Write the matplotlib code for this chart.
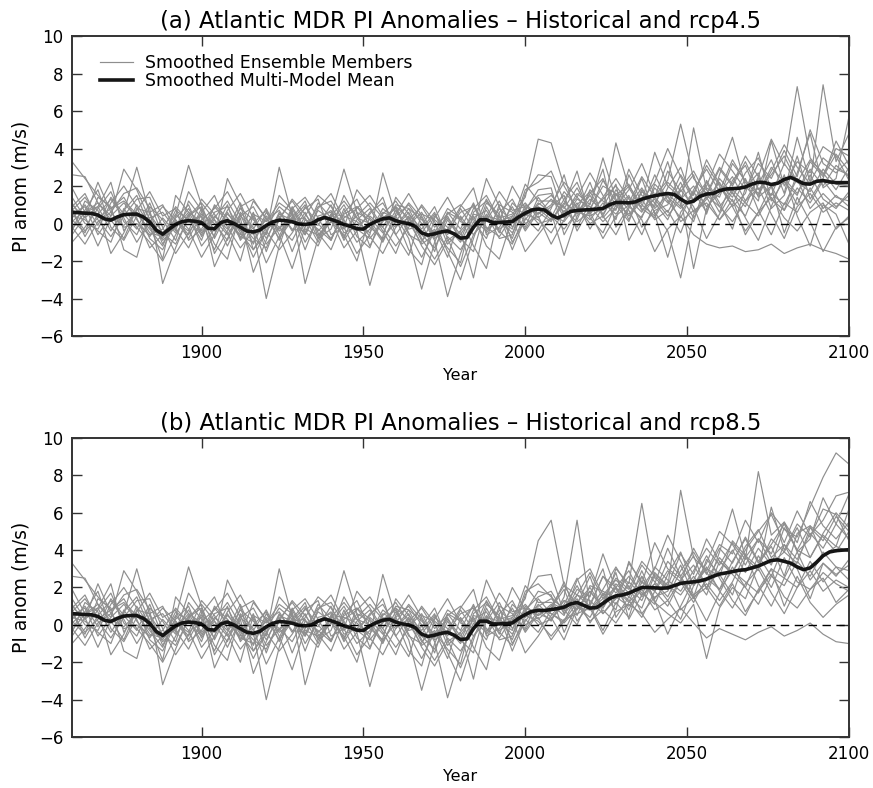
import numpy as np
import matplotlib
matplotlib.use("Agg")
import matplotlib.pyplot as plt


# =========================
# 1. Data
# =========================

# multi-model mean, 2-year steps
mean_hist_years = list(range(1860, 2005, 2))
mean_hist = [0.60, 0.58, 0.55, 0.54, 0.45, 0.25, 0.18, 0.35, 0.47, 0.50,
             0.50, 0.35, 0.08, -0.35, -0.57, -0.30, -0.05, 0.10, 0.15, 0.12,
             0.05, -0.25, -0.28, 0.05, 0.15, 0.00, -0.20, -0.40, -0.45, -0.35,
             -0.10, 0.08, 0.18, 0.15, 0.09, -0.02, -0.05, 0.00, 0.20, 0.32,
             0.22, 0.10, -0.05, -0.15, -0.28, -0.30, -0.05, 0.12, 0.25, 0.30,
             0.15, 0.05, 0.00, -0.15, -0.50, -0.62, -0.55, -0.45, -0.40, -0.55,
             -0.78, -0.75, -0.20, 0.20, 0.20, 0.05, 0.05, 0.08, 0.10, 0.35,
             0.55, 0.72, 0.77]

mean_fut_years = list(range(2006, 2101, 2))
mean_rcp45 = [0.72, 0.45, 0.29, 0.45, 0.64, 0.70, 0.72, 0.74, 0.77, 0.80,
              1.00, 1.12, 1.12, 1.10, 1.15, 1.30, 1.40, 1.48, 1.55, 1.60,
              1.55, 1.30, 1.10, 1.20, 1.45, 1.57, 1.60, 1.75, 1.84, 1.86,
              1.88, 1.95, 2.10, 2.20, 2.18, 2.08, 2.15, 2.35, 2.46, 2.30,
              2.12, 2.10, 2.25, 2.29, 2.22, 2.18, 2.18, 2.18]
mean_rcp85 = [0.77, 0.82, 0.87, 0.95, 1.12, 1.20, 1.05, 0.90, 0.92, 1.15,
              1.40, 1.55, 1.60, 1.70, 1.85, 2.00, 2.00, 1.98, 1.96, 1.98,
              2.10, 2.22, 2.27, 2.30, 2.35, 2.45, 2.60, 2.72, 2.78, 2.85,
              2.92, 2.95, 3.05, 3.15, 3.30, 3.45, 3.48, 3.40, 3.30, 3.10,
              2.95, 3.05, 3.35, 3.70, 3.90, 3.97, 4.00, 4.02]

# ensemble members, 4-year steps
hist_years = list(range(1860, 2005, 4))
hist_members = [
    [3.3, 2.4, 1.5, 0.8, 1.2, 0.5, -0.3, -1.2, 0.4, 3.1, 1.0, -0.8, 0.6, -0.5, -1.4, -0.2, 0.9, 0.3, -0.6, 0.8, 1.6, 0.2, -1.0, -0.3, 0.5, 1.2, 0.1, -1.1, -0.6, 0.4, -0.9, 0.8, 1.5, 0.2, -0.3, 1.8, 2.2],
    [2.6, 2.5, 1.1, 0.4, 2.9, 1.8, 0.2, -0.9, -0.2, 0.8, -0.4, 0.3, 1.2, 0.0, -0.8, -1.3, 0.2, 1.3, 0.5, -0.4, 0.3, 2.9, 0.6, -1.2, 0.2, 0.9, -0.5, -1.8, -0.4, -1.3, -2.1, 0.6, 1.2, 0.3, 0.5, 1.4, 4.5],
    [1.4, 0.3, 2.2, 0.6, 1.6, 1.9, 0.8, -3.2, -1.3, 0.4, 0.9, -1.6, -0.4, 0.8, 0.2, -0.6, 1.5, 0.7, -3.2, -0.8, 0.5, -0.3, 0.4, 1.1, 0.3, -0.2, 0.6, -0.8, -1.9, -0.7, -1.4, -0.2, 2.4, 0.9, -1.0, 0.2, 1.1],
    [0.9, 1.6, 0.2, -0.7, 0.4, 1.3, 1.4, -0.2, -1.6, -0.5, 0.6, 1.5, -0.2, -1.3, -0.4, -4.0, -1.2, 0.8, 1.4, 0.3, -0.9, 0.6, 1.3, -0.2, -0.8, 0.1, 1.1, 0.3, -0.9, -3.9, -1.6, 0.1, -0.8, 1.0, 0.6, -0.3, 0.8],
    [-1.0, -0.2, 0.8, 1.7, 0.1, -0.6, 0.9, 0.2, -0.9, 1.2, 0.3, -0.7, 2.4, 1.0, -1.4, -0.5, 3.0, 0.4, -0.6, 0.7, 0.2, -1.3, -0.4, -3.3, -0.7, 1.4, 0.5, -0.3, 0.6, -1.1, -0.4, -2.9, 0.3, 1.7, 0.7, 0.9, 0.5],
    [0.5, 0.9, -0.6, 0.4, 1.1, 0.3, -1.3, -0.6, 0.5, -0.3, -1.8, -0.6, 0.7, 1.6, 0.3, -1.1, -0.2, -0.9, 0.4, 1.5, 0.9, -0.2, -1.6, -0.6, 2.7, 0.4, -0.8, -3.5, -1.0, 0.6, 0.2, 1.0, -0.2, -0.7, 0.4, 1.1, 0.3],
    [1.9, 0.6, 0.9, 2.2, -0.4, 0.7, 1.7, 0.4, 0.8, -0.9, -0.3, 0.9, 0.1, -0.6, 1.2, 0.3, -0.8, 0.2, 1.0, -0.5, -1.4, 0.3, 0.8, 1.5, 0.4, -0.6, -1.7, 0.5, 0.2, -0.4, 0.6, 0.9, -0.3, 0.1, 2.0, 0.8, 1.5],
    [-0.4, 1.2, 0.7, -1.6, -0.5, 1.0, -0.1, -1.9, 1.5, 0.6, -0.5, 0.2, -1.2, 0.3, -2.6, -0.9, 0.6, -0.3, -0.4, -1.2, 0.4, 1.2, 0.3, -0.7, -1.6, -0.2, 0.8, -0.6, -1.3, 0.2, -0.8, -1.5, 0.9, -0.4, -1.1, 0.5, 0.2],
    [0.2, -0.5, 1.4, 0.9, -1.4, -1.8, 0.6, 1.0, -0.4, 1.7, 0.7, -2.3, -0.8, 0.4, -0.3, 0.8, -0.6, -2.4, -0.2, 0.9, 1.2, 0.1, -0.4, 0.6, 1.1, -0.1, 0.3, -1.2, -2.2, -0.9, -0.4, 0.4, -1.2, -1.9, 0.3, -1.5, -0.6],
    [1.1, 0.0, -0.3, 1.1, 2.0, 0.9, -0.8, -1.4, 0.1, -0.4, 1.3, 0.5, -0.5, -2.0, 0.5, 0.1, 1.1, 0.6, -1.0, 0.2, 0.7, -0.8, 0.9, 0.3, -0.5, 0.7, -0.3, -0.1, 0.9, -0.8, -2.3, -0.6, 0.5, -0.8, -0.6, 1.6, 2.6],
    [0.7, 1.4, 0.4, 0.1, 0.6, 3.0, 0.5, -0.5, -1.1, 0.3, -0.9, 1.0, 0.3, -0.7, -1.0, 0.6, -0.4, 0.1, 0.8, 1.3, -0.6, -0.2, 1.8, 0.9, -0.2, 1.0, 0.8, 0.2, -0.5, 0.8, 0.3, -1.2, -2.4, 0.6, 1.3, 0.0, 0.4],
    [-0.2, -1.1, 0.1, 0.6, -0.2, 0.0, -0.6, -0.3, 0.9, 0.1, 0.4, -1.1, -1.9, 0.6, -0.2, -2.1, -0.7, 0.9, -0.3, -0.6, 0.1, -0.6, -2.0, 0.4, -0.2, -1.2, -0.2, 1.0, 0.1, -1.5, -3.0, -0.8, 1.1, 0.5, -1.4, 0.3, -0.4],
    [0.4, 0.2, -0.4, -1.0, 0.8, -0.2, -1.0, -2.0, -0.6, 0.5, -1.2, -0.3, 0.5, -0.2, -1.8, -0.4, 0.4, -1.5, 0.2, -0.3, -0.9, 0.8, -0.7, -1.3, 0.6, 0.3, -1.4, -2.2, 0.3, 1.4, 0.1, -0.2, 0.4, 0.2, -0.5, 0.7, 1.8],
    [0.1, 0.7, 1.8, -0.2, -0.9, 0.4, 0.3, 0.6, -0.3, -1.3, 0.2, 0.8, 1.7, 0.4, 0.9, -0.4, -1.4, -0.5, 0.6, -0.8, -0.3, 1.5, 0.3, 0.0, -1.0, 0.5, 1.6, 0.4, -0.8, -0.3, 0.9, 1.9, -0.6, -0.2, 0.9, -0.4, 0.6],
    [0.8, -0.7, 0.5, 1.3, 0.3, -1.0, 0.1, 0.9, 0.2, -0.8, 0.5, 0.0, -0.9, 0.9, 1.3, 0.2, -0.3, 0.5, -1.4, 0.4, 0.6, -0.9, 0.2, 0.8, -0.4, -1.6, 0.2, 0.9, -0.2, 0.5, 1.0, 0.2, -0.4, 0.8, 0.1, 2.1, 1.2],
    [-0.6, 0.4, -1.2, 0.3, -0.1, 0.6, -0.5, -0.7, 0.7, 0.2, -0.6, 0.6, 0.9, -0.4, 0.4, -0.8, 0.5, 0.2, 0.3, -1.0, 0.5, 0.4, 0.1, -0.5, 0.8, 0.2, -0.1, 0.6, -0.7, 0.3, -0.6, 0.5, 0.3, -0.3, 0.2, 0.6, 0.9],
    [1.0, 0.3, 0.9, -0.4, 0.7, 1.5, -0.2, -0.8, 0.3, 1.0, -0.7, 0.4, -0.3, 1.1, -0.6, 0.2, 0.7, -0.4, 0.9, 0.0, -0.8, 0.5, 0.9, -0.1, 0.3, 0.8, -0.6, -1.0, 0.4, -0.2, -1.0, 0.3, 0.7, -0.5, 1.1, 0.4, 1.0],
    [0.3, 1.0, -0.1, 1.4, 0.5, -0.3, 1.1, -0.6, -0.2, 0.6, 0.1, -1.4, 0.3, -0.8, 0.6, -1.5, 0.3, 1.2, 0.2, -0.1, 1.0, -0.5, -0.2, 0.5, 1.4, -0.6, 0.4, -0.9, -0.3, -1.8, 0.4, -0.6, 0.2, 1.2, -0.2, 0.8, 0.0],
    [-0.3, 0.6, 1.1, 0.2, -0.8, 0.8, 0.6, -1.1, 0.2, -0.6, 0.8, -0.4, 1.0, -0.9, 0.0, 0.7, -0.9, 0.8, -0.5, 1.1, 0.3, -0.7, 0.6, 0.2, -0.9, 0.4, 1.0, 0.0, -1.5, 0.6, -0.3, 1.1, -0.5, 0.4, -0.8, 1.0, 0.5],
    [0.6, -0.4, 0.3, 0.8, 1.4, 0.2, -0.7, 0.3, -0.5, 0.4, 1.1, 0.2, -0.6, 0.5, -1.1, 0.4, -0.2, 0.3, 1.2, -0.7, 0.1, 1.0, -0.3, -0.8, 0.1, 0.9, 0.3, -0.5, 0.5, -0.6, 0.8, -0.3, 1.3, 0.1, 0.4, -0.2, 1.4],
]

fut_years = list(range(2008, 2101, 4))
rcp45_members = [
    [2.8, 1.2, 0.5, 1.6, 2.4, 0.9, 1.8, 3.2, 1.5, 2.3, 5.3, 2.4, 1.6, 3.0, 2.1, 3.6, 2.5, 4.5, 3.1, 7.3, 3.5, 2.6, 4.0, 3.6],
    [4.3, 2.0, 0.8, 0.2, 1.1, 0.5, 1.4, 0.9, 2.6, 1.2, 0.3, 1.8, 2.9, 1.7, 3.4, 2.2, 1.5, 2.8, 4.2, 3.0, 2.1, 7.4, 3.3, 4.8],
    [0.6, -1.7, 0.4, 1.3, 0.7, 4.3, 1.9, 0.8, 0.3, 1.6, 0.9, 5.1, 1.8, 0.6, 2.3, 3.1, 1.4, 2.0, 0.7, 2.7, 4.8, 1.9, 2.4, 5.7],
    [0.2, 1.0, 2.8, 0.3, -0.5, 1.0, 0.1, 1.8, 0.6, -0.4, -2.9, 0.5, 1.3, 2.2, 0.9, 1.6, 3.8, 1.2, 2.3, 1.0, 2.6, 1.3, 0.8, 1.7],
    [1.3, 0.6, 1.4, 2.7, 1.5, 0.2, 2.6, 1.1, 3.8, 2.0, 1.4, -2.4, 0.8, 1.9, 1.2, 0.4, 2.1, 3.4, 1.6, 4.6, 2.2, 3.5, 2.9, 2.6],
    [0.9, 1.5, -0.4, 0.8, 2.0, 1.6, 0.7, -0.6, 1.1, 0.2, 1.8, 0.9, -0.8, 0.5, 1.7, 0.3, -0.9, 0.9, 2.6, 0.4, -1.2, 1.0, 0.5, -1.1],
    [1.6, 0.3, 1.1, -0.3, 0.9, 2.1, -0.9, 0.4, 1.4, 3.3, 1.0, 0.1, 2.3, 1.1, -0.3, 1.9, 2.7, 0.8, 1.5, 3.6, 1.3, 2.4, 4.4, 3.1],
    [-0.5, 0.7, 0.1, 0.6, -0.8, 0.4, 1.0, 0.2, -1.5, -0.3, 0.4, -0.6, -1.1, -1.3, -1.2, -1.5, -1.4, -1.1, -1.6, -1.3, -1.1, -1.4, -1.6, -1.9],
    [0.3, 1.7, 0.9, 0.0, 0.4, -0.6, 0.8, 2.4, 0.5, -1.8, 0.6, 1.6, 3.1, 2.0, 0.9, -0.4, 0.6, 2.0, -0.5, 1.4, 0.1, -1.5, -0.2, 0.3],
    [2.5, 0.4, 1.6, 1.0, 3.5, 1.3, 0.4, 1.2, 2.2, 4.0, 2.5, 1.2, 2.0, 3.7, 2.8, 1.8, 3.2, 2.4, 3.9, 2.5, 5.0, 3.2, 2.7, 3.4],
    [-1.1, 0.2, 1.3, 0.9, 0.1, 0.8, 1.5, -0.2, 0.7, 1.0, 2.2, 0.6, 1.4, 0.2, 1.0, 2.4, 0.7, -0.6, 1.1, 0.6, 1.9, 0.8, 1.5, 0.9],
    [0.8, 2.6, 0.2, 1.8, 1.2, 0.7, 2.9, 1.5, 0.9, 2.8, 1.7, 2.6, 0.5, 2.6, 4.6, 2.0, 1.2, 4.4, 2.0, 3.3, 2.7, 4.1, 3.6, 2.3],
    [1.9, -0.6, 0.7, 2.2, 0.3, 1.1, 0.5, 1.3, 0.2, 0.7, -0.5, 1.3, 2.2, 0.9, 0.1, 1.2, 1.9, 0.5, -0.8, 0.9, 1.6, 0.6, 1.1, 0.7],
    [0.1, 1.3, 2.2, 0.5, 1.4, 2.4, 1.3, 0.6, 1.9, 1.1, 2.6, 1.5, 3.4, 2.1, 1.4, 2.7, 3.5, 1.9, 2.4, 1.6, 2.9, 2.0, 3.1, 2.5],
    [1.2, 0.9, -0.2, 1.1, 2.9, -0.2, 0.9, 1.9, 0.8, 1.5, 0.1, 0.7, 1.1, 0.2, 1.3, -0.6, 0.6, 1.4, 0.3, -0.4, 0.6, 1.1, -0.3, 0.4],
    [0.4, -0.3, 0.6, 0.4, 0.8, 1.5, 2.1, 0.7, 1.3, 0.4, 1.3, 2.0, 0.9, 1.6, 2.5, 1.2, 2.4, 1.5, 3.2, 2.2, 1.7, 2.9, 2.1, 2.0],
    [1.5, 0.8, 1.9, 0.6, 1.3, 2.0, 1.1, 2.5, 1.4, 0.6, 1.9, 2.8, 1.5, 2.9, 2.0, 3.3, 1.8, 2.6, 3.6, 2.2, 3.4, 2.7, 1.8, 3.0],
    [0.2, 1.1, 0.6, 1.5, 0.4, 1.8, 0.9, 0.3, 2.1, 1.4, 0.8, 1.7, 0.6, 2.4, 1.6, 0.9, 2.5, 1.3, 0.7, 1.9, 1.1, 2.3, 1.4, 1.2],
    [1.0, 2.2, 1.4, 0.7, 2.3, 1.2, 2.0, 1.0, 0.4, 1.9, 3.0, 1.1, 1.9, 1.4, 3.2, 2.3, 1.6, 3.0, 2.2, 1.5, 3.3, 2.5, 3.7, 2.8],
    [0.5, 0.1, 1.0, 1.7, 0.5, 1.6, 0.2, 1.7, 1.1, 2.2, 1.5, 0.3, 1.5, 0.9, 1.8, 1.1, 0.4, 1.6, 1.0, 2.4, 0.8, 1.6, 0.9, 1.5],
]
rcp85_members = [
    [1.5, 0.8, 1.6, 2.8, 1.4, 2.5, 1.9, 3.4, 2.6, 2.0, 7.2, 3.6, 2.9, 4.3, 3.8, 5.6, 4.4, 6.0, 5.1, 4.7, 6.3, 7.9, 9.2, 8.6],
    [5.6, 2.1, 1.0, 0.4, 1.7, 1.1, 2.3, 1.6, 3.1, 2.4, 1.8, 2.9, 4.1, 3.2, 4.4, 3.5, 8.2, 4.8, 5.5, 3.9, 4.6, 6.8, 5.4, 7.0],
    [0.4, -0.8, 0.9, 1.8, 0.9, 3.0, 2.2, 6.5, 2.5, 1.9, 2.3, 4.1, 2.8, 1.9, 3.4, 4.6, 3.3, 4.2, 2.6, 4.9, 5.3, 3.7, 4.2, 6.2],
    [0.2, 1.5, 5.6, 1.0, -0.3, 1.2, 0.4, 2.6, 1.2, 0.6, 0.1, 1.1, -1.8, 0.9, 2.0, 1.4, 3.2, 2.0, 3.6, 2.3, 1.9, 2.8, 2.2, 1.8],
    [1.1, 0.5, 2.4, 3.0, 1.6, 0.8, 3.4, 2.2, 4.4, 3.0, 2.5, 1.4, 2.4, 3.6, 2.8, 4.0, 5.0, 5.9, 4.4, 6.1, 4.8, 5.6, 6.9, 7.1],
    [0.9, 1.9, 0.2, 1.1, 2.6, 2.0, 1.3, 0.4, 1.8, 1.0, 2.4, 1.5, 0.2, 1.7, 3.1, 2.0, 1.1, 2.6, 4.3, 3.0, 1.4, 3.3, 2.6, 3.5],
    [1.8, 0.6, 1.4, 0.1, 1.2, 2.8, 0.3, 1.6, 2.2, 4.1, 2.6, 1.5, 3.5, 2.7, 1.6, 3.6, 4.6, 3.3, 3.9, 5.2, 3.6, 4.9, 6.0, 5.2],
    [-0.6, 0.3, 0.6, 0.9, -0.5, 0.7, 1.1, 0.6, -0.4, 0.3, 0.9, 0.1, -0.7, -0.2, -0.5, -0.8, -0.4, -0.1, -0.6, -0.3, 0.1, -0.5, -0.9, -1.0],
    [0.5, 1.3, 1.1, 0.2, 0.8, 0.1, 1.2, 2.9, 1.3, -0.5, 1.0, 2.4, 3.7, 2.5, 1.3, 0.5, 1.9, 3.0, 1.0, 2.6, 1.2, 0.4, 1.1, 1.6],
    [2.7, 0.6, 1.9, 1.5, 3.8, 1.9, 1.2, 2.0, 3.0, 4.8, 3.4, 2.1, 3.3, 5.0, 4.3, 3.2, 4.6, 3.8, 5.5, 4.4, 6.6, 5.3, 4.6, 5.5],
    [-0.8, 0.2, 1.6, 1.3, 0.6, 1.4, 2.1, 0.6, 1.5, 1.8, 3.2, 1.6, 2.2, 1.3, 2.3, 3.8, 2.1, 1.0, 2.5, 2.0, 3.4, 2.3, 3.1, 2.4],
    [0.8, 2.3, 0.5, 2.1, 1.8, 1.4, 3.3, 2.3, 1.8, 3.4, 2.6, 3.7, 1.9, 3.9, 6.2, 3.6, 2.9, 6.3, 4.0, 5.4, 4.7, 6.2, 5.9, 4.5],
    [1.6, -0.4, 1.1, 2.6, 0.6, 1.5, 1.0, 1.9, 0.8, 1.3, 0.3, 2.1, 3.1, 1.8, 0.9, 2.2, 3.0, 1.7, 0.6, 2.0, 2.9, 1.8, 2.4, 2.0],
    [0.3, 1.1, 2.5, 0.8, 1.9, 3.1, 2.0, 1.3, 2.8, 2.1, 3.8, 2.7, 4.6, 3.4, 2.8, 4.2, 5.1, 3.6, 4.3, 3.5, 4.9, 4.1, 5.4, 4.6],
    [1.2, 0.8, 0.0, 1.6, 3.0, 0.4, 1.5, 2.6, 1.4, 2.3, 0.8, 1.5, 2.0, 1.0, 2.2, 0.7, 1.8, 2.7, 1.5, 0.9, 1.9, 2.5, 1.2, 1.9],
    [0.6, 0.1, 0.9, 0.8, 1.4, 2.0, 2.9, 1.5, 2.2, 1.3, 2.4, 3.2, 2.0, 2.9, 4.0, 2.8, 4.1, 3.2, 5.2, 4.0, 3.6, 4.8, 4.2, 3.9],
    [1.4, 0.9, 2.1, 0.8, 1.6, 2.4, 1.7, 3.2, 2.3, 1.5, 2.9, 3.9, 2.7, 4.1, 3.3, 4.7, 3.4, 4.3, 5.4, 4.0, 5.3, 4.7, 3.9, 5.0],
    [0.3, 1.3, 0.8, 1.8, 0.9, 2.2, 1.5, 0.9, 2.7, 2.1, 1.6, 2.6, 1.6, 3.4, 2.7, 2.0, 3.7, 2.6, 2.1, 3.4, 2.6, 3.9, 3.1, 2.9],
    [1.0, 2.1, 1.6, 1.0, 2.6, 1.7, 2.6, 1.7, 1.1, 2.7, 3.9, 2.1, 3.0, 2.6, 4.5, 3.7, 3.1, 4.6, 3.9, 3.3, 5.2, 4.5, 5.8, 5.0],
    [0.6, 0.2, 1.2, 2.0, 0.9, 2.0, 0.8, 2.3, 1.8, 2.9, 2.3, 1.2, 2.5, 1.9, 2.9, 2.3, 1.7, 3.0, 2.5, 3.9, 2.4, 3.3, 2.7, 3.2],
]

titles = ["(a) Atlantic MDR PI Anomalies \u2013 Historical and rcp4.5",
          "(b) Atlantic MDR PI Anomalies \u2013 Historical and rcp8.5"]


# =========================
# 2. Plot
# =========================

plt.rcParams["font.family"] = "DejaVu Sans"

fig = plt.figure(figsize=(8.73, 7.88), dpi=100)
ax_a = fig.add_axes([0.0825, 0.5736, 0.890, 0.3807])
ax_b = fig.add_axes([0.0825, 0.0647, 0.890, 0.3795])

member_color = "#8e8e8e"
axis_color = "#333333"

panels = [(ax_a, rcp45_members, mean_rcp45), (ax_b, rcp85_members, mean_rcp85)]

for i, (ax, fut_members, fut_mean) in enumerate(panels):
    all_years = hist_years + fut_years
    for k, (h, f) in enumerate(zip(hist_members, fut_members)):
        ax.plot(all_years, h + f, color=member_color, lw=0.85,
                label="Smoothed Ensemble Members" if k == 0 else None)
    ax.plot(mean_hist_years + mean_fut_years, mean_hist + fut_mean,
            color="#151515", lw=2.6, label="Smoothed Multi-Model Mean")
    ax.axhline(0, color="black", lw=1.0, ls=(0, (6, 4)))

    ax.set_xlim(1860, 2100)
    ax.set_ylim(-6, 10)
    ax.set_xticks([1900, 1950, 2000, 2050, 2100])
    ax.set_yticks(range(-6, 11, 2))
    ax.tick_params(direction="in", top=True, right=True, length=7,
                   width=1.0, color=axis_color, labelsize=12, pad=6)
    for s in ax.spines.values():
        s.set_color(axis_color)
        s.set_linewidth(1.4)
    ax.set_title(titles[i], fontsize=16.4, pad=6)
    ax.set_xlabel("Year", fontsize=11.5, labelpad=4)
    ax.set_ylabel("PI anom (m/s)", fontsize=13.5, labelpad=6)

    if i == 0:
        ax.legend(loc="upper left", frameon=False, fontsize=12.5,
                  handlelength=1.9, handletextpad=0.7, labelspacing=0.0,
                  borderaxespad=0.0, bbox_to_anchor=(0.027, 0.962))

fig.savefig("out.png", dpi=100)
